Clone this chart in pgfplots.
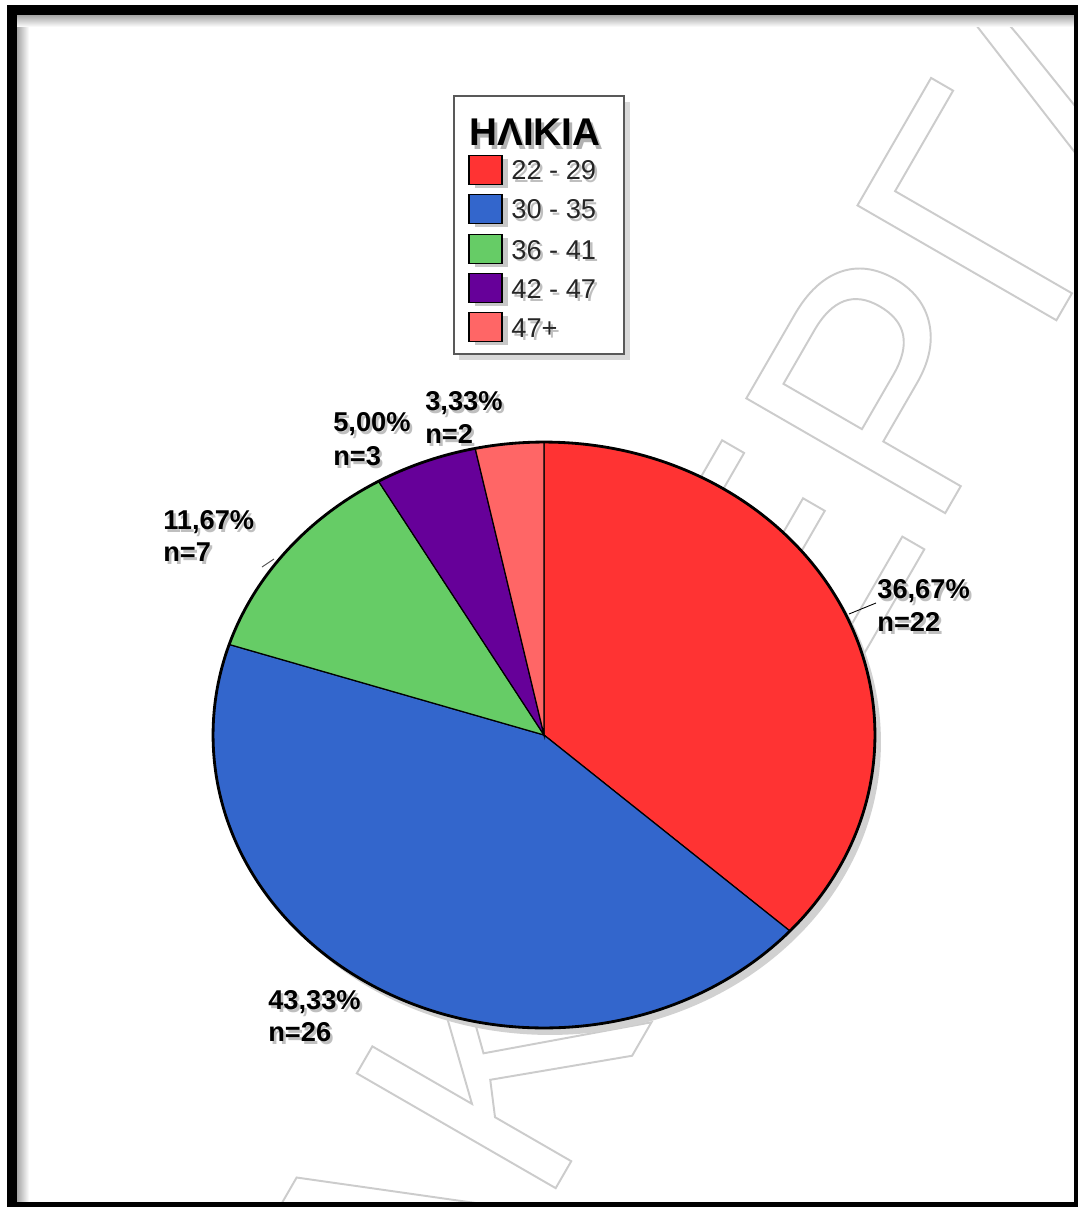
\documentclass[border=0pt]{standalone}
\usepackage{fontspec}
\setmainfont{Liberation Sans}
\usepackage{pgfplots}
\pgfplotsset{compat=1.18}
\usepackage{pgfplotstable}

\definecolor{cRed}{RGB}{255,51,51}
\definecolor{cBlue}{RGB}{51,102,204}
\definecolor{cGreen}{RGB}{102,204,102}
\definecolor{cPurple}{RGB}{102,0,153}
\definecolor{cPink}{RGB}{255,102,102}

\pgfplotstableread[col sep=comma]{
group,n
22 - 29,22
30 - 35,26
36 - 41,7
42 - 47,3
47+,2
}\agedata

\newcommand\outl[1]{\special{pdf:literal direct 0.80 G 1.1 w 1 Tr}#1\special{pdf:literal direct 0 Tr}}

\newcommand\lbl[3]{%
  \node[anchor=base west, inner sep=0pt, text=black!25, font=\bfseries\fontsize{15.5}{16}\selectfont, xshift=0.05cm, yshift=-0.07cm] at (axis cs:#1,#2) {#3};
  \node[anchor=base west, inner sep=0pt, text=black, font=\bfseries\fontsize{15.5}{16}\selectfont] at (axis cs:#1,#2) {#3};}

\newcommand\legentry[3]{%
  \fill[black!22] (axis cs:475,#1) ++(0,-0.36cm) rectangle ++(0.66cm,0.58cm);
  \filldraw[fill=#2, draw=black, line width=0.8pt] (axis cs:469,#1) ++(0,-0.29cm) rectangle ++(0.66cm,0.58cm);
  \node[anchor=base west, inner sep=0pt, text=black!25, font=\fontsize{15.5}{16}\selectfont, xshift=0.05cm, yshift=-0.26cm] at (axis cs:511,#1) {#3};
  \node[anchor=base west, inner sep=0pt, text=black!85, font=\fontsize{15.5}{16}\selectfont, yshift=-0.2cm] at (axis cs:511,#1) {#3};}

\begin{document}
\begin{tikzpicture}
\pgfplotstablegetelem{0}{n}\of\agedata\edef\nA{\pgfplotsretval}
\pgfplotstablegetelem{1}{n}\of\agedata\edef\nB{\pgfplotsretval}
\pgfplotstablegetelem{2}{n}\of\agedata\edef\nC{\pgfplotsretval}
\pgfplotstablegetelem{3}{n}\of\agedata\edef\nD{\pgfplotsretval}
\pgfplotstablegetelem{4}{n}\of\agedata\edef\nE{\pgfplotsretval}
\pgfmathsetmacro\ntot{\nA+\nB+\nC+\nD+\nE}
\pgfmathsetmacro\tO{90}
\pgfmathsetmacro\tA{\tO-360*\nA/\ntot}
\pgfmathsetmacro\tB{\tA-360*\nB/\ntot}
\pgfmathsetmacro\tC{\tB-360*\nC/\ntot}
\pgfmathsetmacro\tD{\tC-360*\nD/\ntot}
\pgfmathsetmacro\tE{\tD-360*\nE/\ntot}
\begin{axis}[x=0.02cm, y=0.02cm, xmin=0, xmax=1078, ymin=0, ymax=1207,
  y dir=reverse, hide axis, clip=false, scale only axis]
% background
\fill[white] (axis cs:0,0) rectangle (axis cs:1078,1207);
% watermark
\begin{scope}
\clip (axis cs:17,15) rectangle (axis cs:1074,1202);
\node[rotate=60, anchor=base west, font=\fontsize{190}{190}\selectfont, inner sep=0pt] at (axis cs:820,730) {\outl{ΕΡΓΑΣΙΑ}};
\node[rotate=60, anchor=base east, font=\fontsize{190}{190}\selectfont, inner sep=0pt] at (axis cs:774,810) {\outl{ΠΤΥΧΙΑΚΗ}};
\end{scope}
% inner shadow of frame
\shade[left color=black!35, right color=white] (axis cs:17,15) rectangle (axis cs:29,1202);
\shade[top color=black!35, bottom color=white] (axis cs:17,15) rectangle (axis cs:1074,27);
% frame
\fill[black] (axis cs:7,5) rectangle (axis cs:1078,15);
\fill[black] (axis cs:7,5) rectangle (axis cs:17,1207);
\fill[black] (axis cs:1074,5) rectangle (axis cs:1078,1207);
\fill[black] (axis cs:7,1202) rectangle (axis cs:1078,1207);
% pie shadow
\fill[black!18] (axis cs:550,742) ellipse[x radius=6.62cm, y radius=5.86cm];
% pie slices
\filldraw[fill=cRed, draw=black, line width=0.7pt] (axis cs:544,735) -- ++(\tO:6.62cm and 5.86cm) arc[start angle=\tO, end angle=\tA, x radius=6.62cm, y radius=5.86cm] -- cycle;
\filldraw[fill=cBlue, draw=black, line width=0.7pt] (axis cs:544,735) -- ++(\tA:6.62cm and 5.86cm) arc[start angle=\tA, end angle=\tB, x radius=6.62cm, y radius=5.86cm] -- cycle;
\filldraw[fill=cGreen, draw=black, line width=0.7pt] (axis cs:544,735) -- ++(\tB:6.62cm and 5.86cm) arc[start angle=\tB, end angle=\tC, x radius=6.62cm, y radius=5.86cm] -- cycle;
\filldraw[fill=cPurple, draw=black, line width=0.7pt] (axis cs:544,735) -- ++(\tC:6.62cm and 5.86cm) arc[start angle=\tC, end angle=\tD, x radius=6.62cm, y radius=5.86cm] -- cycle;
\filldraw[fill=cPink, draw=black, line width=0.7pt] (axis cs:544,735) -- ++(\tD:6.62cm and 5.86cm) arc[start angle=\tD, end angle=\tE, x radius=6.62cm, y radius=5.86cm] -- cycle;
\draw[black, line width=1.6pt] (axis cs:544,735) ellipse[x radius=6.62cm, y radius=5.86cm];
% leader lines
\draw[black, line width=0.5pt] (axis cs:849,614) -- (axis cs:876,603);
\draw[black!70, line width=0.5pt] (axis cs:262,567) -- (axis cs:274,559);
% slice labels
\lbl{877}{598}{36,67\%}
\lbl{877}{631}{n=22}
\lbl{268}{1009}{43,33\%}
\lbl{268}{1041}{n=26}
\lbl{163}{529}{11,67\%}
\lbl{163}{561}{n=7}
\lbl{333}{431}{5,00\%}
\lbl{333}{465}{n=3}
\lbl{425}{410}{3,33\%}
\lbl{425}{443}{n=2}
% legend box
\fill[black!15] (axis cs:459,102) rectangle (axis cs:630,360);
\filldraw[fill=white, draw=black!65, line width=0.6pt] (axis cs:454,96) rectangle (axis cs:624,354);
\node[anchor=base west, inner sep=0pt, text=black!30, font=\bfseries\fontsize{22}{23}\selectfont, xshift=0.06cm, yshift=-0.08cm] at (axis cs:469,146) {ΗΛΙΚΙΑ};
\node[anchor=base west, inner sep=0pt, text=black, font=\bfseries\fontsize{22}{23}\selectfont] at (axis cs:469,146) {ΗΛΙΚΙΑ};
\legentry{170}{cRed}{22 - 29}
\legentry{209}{cBlue}{30 - 35}
\legentry{249}{cGreen}{36 - 41}
\legentry{288}{cPurple}{42 - 47}
\legentry{327}{cPink}{47+}
\end{axis}
\end{tikzpicture}
\end{document}
